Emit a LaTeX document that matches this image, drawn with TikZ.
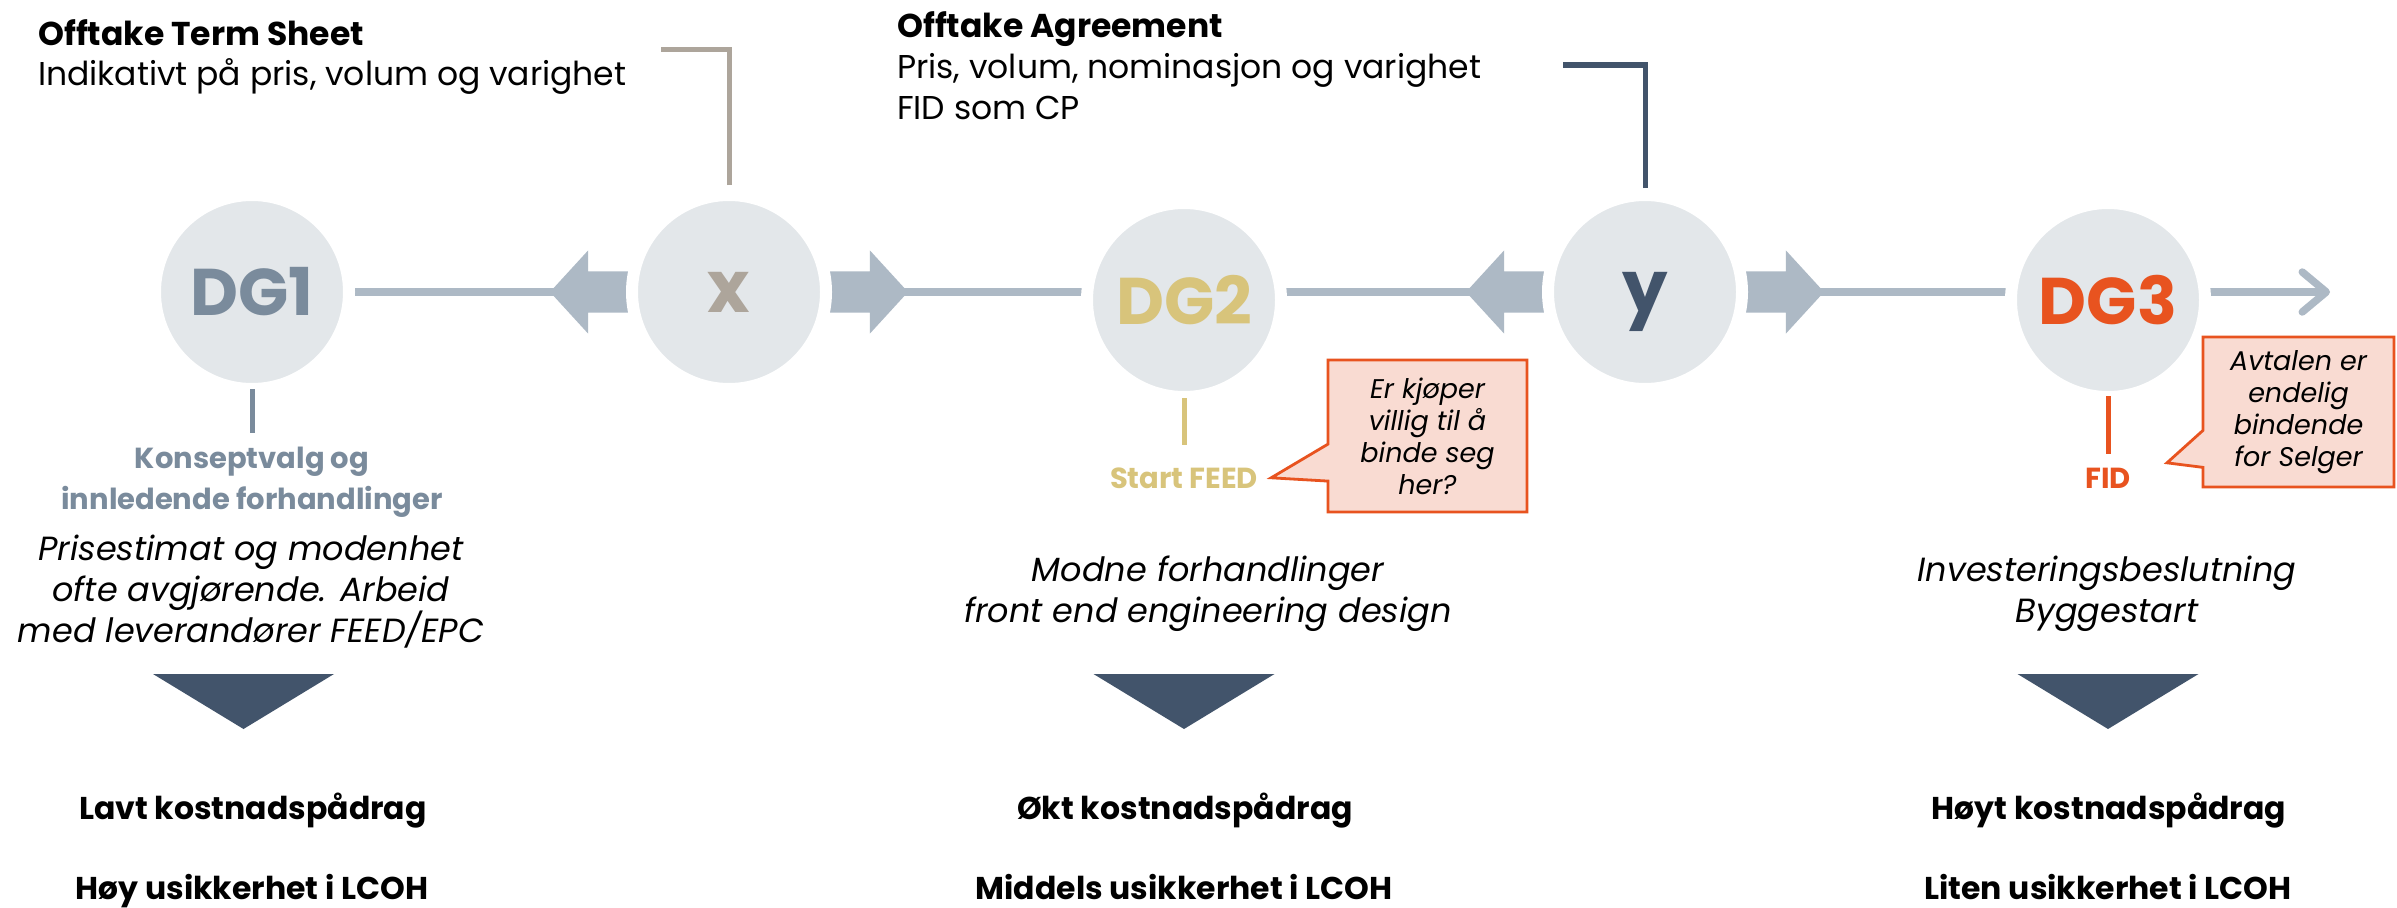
\documentclass[tikz,border=0pt]{standalone}
\usepackage{fontspec}
\setmainfont{Poppins}
\usetikzlibrary{shapes.arrows,shapes.callouts,arrows.meta,backgrounds,positioning}

\definecolor{gatefill}{HTML}{E3E7EA}
\definecolor{trackc}{HTML}{ADB9C5}
\definecolor{slate}{HTML}{42546B}
\definecolor{dgone}{HTML}{7A8B9C}
\definecolor{dgtwo}{HTML}{D8C47B}
\definecolor{dgthree}{HTML}{E8531F}
\definecolor{xcol}{HTML}{ADA59B}
\definecolor{callfill}{HTML}{F9DBD2}

\begin{document}
\begin{tikzpicture}[x=1pt, y=1pt,
  gate/.style={circle, fill=gatefill, draw=white, line width=12pt, minimum size=194pt, inner sep=0pt, font=\fontsize{66}{66}\selectfont\bfseries},
  track/.style={draw=trackc, line width=7.5pt},
  blockarrow/.style={single arrow, fill=trackc, draw=none, inner xsep=0pt, inner ysep=20.5pt, outer sep=0pt, minimum width=83pt, minimum height=84pt, single arrow head extend=21pt, single arrow tip angle=95},
  stem/.style={line width=5pt},
  bracket/.style={line width=5pt},
  phase/.style={font=\fontsize{29}{41}\selectfont\bfseries, align=center, inner sep=0pt},
  note/.style={font=\fontsize{33.5}{41}\selectfont\itshape, align=center, inner sep=0pt, anchor=north},
  outcome/.style={font=\fontsize{31.5}{31.5}\selectfont\bfseries, inner sep=0pt, anchor=base},
  callbox/.style={rectangle callout, fill=callfill, draw=dgthree, line width=2.8pt, inner sep=0pt, align=center, font=\fontsize{27}{32}\selectfont\itshape, callout pointer width=37pt}
]
  \useasboundingbox (0,0) rectangle (2397,-907);

  % Gates and offtake milestones
  \node[gate, text=dgone] (dg1) at (252,-292) {DG1};
  \node[gate, text=xcol, font=\fontsize{72}{72}\selectfont\bfseries] (x) at (729,-292) {x};
  \node[gate, text=dgtwo] (dg2) at (1184,-300) {DG2};
  \node[gate, text=slate, text depth=0pt, font=\fontsize{72}{72}\selectfont\bfseries] (y) at (1645,-292) {y};
  \node[gate, text=dgthree] (dg3) at (2108,-300) {DG3};
  \coordinate (fin) at (2330,-292);

  % Timeline and block arrows behind the gates
  \begin{scope}[on background layer]
    \fill[white] (0,0) rectangle (2397,-907);
    \draw[track] (dg1) -- (dg1 -| dg3);
    \draw[track, -{Straight Barb[length=24pt,width=40pt,round]}] (dg3 |- dg1) -- (fin);
    \node[blockarrow, shape border rotate=180, anchor=tail] (xl) at ([xshift=8pt]x.west) {};
    \node[blockarrow, anchor=tail] (xr) at ([xshift=-8pt]x.east) {};
    \node[blockarrow, shape border rotate=180, anchor=tail] (yl) at ([xshift=8pt]y.west) {};
    \node[blockarrow, anchor=tail] (yr) at ([xshift=-8pt]y.east) {};
  \end{scope}

  % Offtake documents
  \node[anchor=north west, align=left, inner sep=0pt, font=\fontsize{33}{40}\selectfont] (ts) at (38,-19)
    {{\bfseries Offtake Term Sheet}\\Indikativt på pris, volum og varighet};
  \node[anchor=north west, align=left, inner sep=0pt, font=\fontsize{33}{41}\selectfont] (oa) at (897,-11)
    {{\bfseries Offtake Agreement}\\Pris, volum, nominasjon og varighet\\FID som CP};
  \draw[bracket, draw=xcol] (x.north) ++(0,4) |- ++(-68,135);
  \draw[bracket, draw=slate] (y.north) ++(0,1) |- ++(-82,123);

  % Stems and phase labels
  \draw[stem, draw=dgone] ([yshift=6pt]dg1.south) -- ++(0,-44);
  \draw[stem, draw=dgtwo] ([yshift=5pt]dg2.south) -- ++(0,-47);
  \draw[stem, draw=dgthree] ([yshift=7pt]dg3.south) -- ++(0,-58);
  \node[phase, text=dgone, anchor=north] (kv) at (252,-447) {Konseptvalg og\\innledende forhandlinger};
  \node[phase, text=dgtwo, anchor=base] (feed) at (1184,-488) {Start FEED};
  \node[phase, text=dgthree, anchor=base] (fid) at (2108,-488) {FID};

  % Questions at DG2 and DG3
  \node[callbox, minimum width=199pt, minimum height=152pt, callout absolute pointer={([xshift=13pt]feed.east)}] (q2) at (1427.5,-436)
    {Er kjøper\\villig til å\\binde seg\\her?};
  \node[callbox, minimum width=191pt, minimum height=150pt, callout absolute pointer={([xshift=36pt,yshift=15pt]fid.east)}] (q3) at (2298.5,-412)
    {Avtalen er\\endelig\\bindende\\for Selger};

  % Phase descriptions
  \node[note] (d1) at (251,-535) {Prisestimat og modenhet\\ofte avgjørende. Arbeid\\med leverandører FEED/EPC};
  \node[note] (d2) at (1208,-556) {Modne forhandlinger\\front end engineering design};
  \node[note] (d3) at (2107,-556) {Investeringsbeslutning\\Byggestart};

  \foreach \c in {243.5,1184,2108}
    \fill[slate] (\c-90.5,-674) -- (\c+90.5,-674) -- (\c,-729) -- cycle;

  % Cost and uncertainty
  \node[outcome] (c1) at (253,-819) {Lavt kostnadspådrag};
  \node[outcome] (u1) at (252,-899) {Høy usikkerhet i LCOH};
  \node[outcome] (c2) at (1185,-819) {Økt kostnadspådrag};
  \node[outcome] (u2) at (1184,-899) {Middels usikkerhet i LCOH};
  \node[outcome] (c3) at (2109,-819) {Høyt kostnadspådrag};
  \node[outcome] (u3) at (2108,-899) {Liten usikkerhet i LCOH};
\end{tikzpicture}
\end{document}
